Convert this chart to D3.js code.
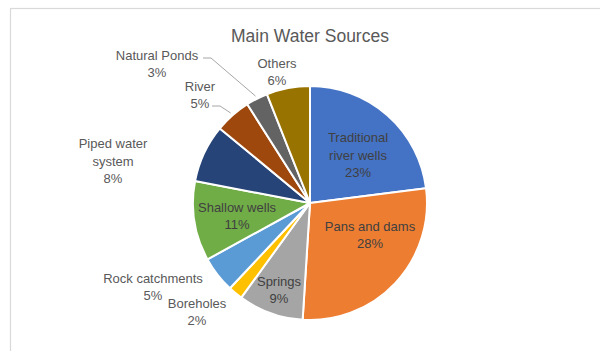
<!DOCTYPE html>
<html>
<head>
<meta charset="utf-8">
<script src="https://cdn.jsdelivr.net/npm/d3@7"></script>
<style>
  body { margin: 0; background: #fff; }
  svg { display: block; font-family: "Liberation Sans", Arial, sans-serif; }
</style>
</head>
<body>
<div id="chart"></div>
<script>
"use strict";
// data
const sources = ["Traditional river wells", "Pans and dams", "Springs", "Boreholes",
  "Rock catchments", "Shallow wells", "Piped water system", "River", "Natural Ponds", "Others"];
const shares = [23, 28, 9, 2, 5, 11, 8, 5, 3, 6];
const colours = ["#4472C4", "#ED7D31", "#A5A5A5", "#FFC000", "#5B9BD5",
  "#70AD47", "#264478", "#9E480E", "#636363", "#997300"];

// label text lines + placement (offset from pie centre) -- layout only
const labelLines = {
  "Traditional river wells": ["Traditional", "river wells"],
  "Pans and dams": ["Pans and dams"],
  "Springs": ["Springs"],
  "Boreholes": ["Boreholes"],
  "Rock catchments": ["Rock catchments"],
  "Shallow wells": ["Shallow wells"],
  "Piped water system": ["Piped water", "system"],
  "River": ["River"],
  "Natural Ponds": ["Natural Ponds"],
  "Others": ["Others"]
};
const labelOffset = {
  "Traditional river wells": [48, -48, true],
  "Pans and dams": [60, 32, true],
  "Springs": [-31, 87, true],
  "Boreholes": [-113, 109, false],
  "Rock catchments": [-157, 84, false],
  "Shallow wells": [-73, 13, true],
  "Piped water system": [-197, -42, false],
  "River": [-110, -108, false],
  "Natural Ponds": [-153, -139, false],
  "Others": [-33, -131, false]
};
// leader line start (near the label), offset from pie centre
const leaderStart = {
  "River": [-98, -97],
  "Natural Ponds": [-107, -145]
};

const W = 600, H = 351;
const cx = 310, cy = 203, R = 117;
const lineH = 17.5;

const svg = d3.select("#chart").append("svg")
  .attr("width", W).attr("height", H);

// chart frame
svg.append("rect")
  .attr("x", 10.5).attr("y", 8.5)
  .attr("width", W).attr("height", H)
  .attr("fill", "#fff")
  .attr("stroke", "#d9d9d9")
  .attr("stroke-width", 1.2);

svg.append("text")
  .attr("x", cx).attr("y", 42)
  .attr("text-anchor", "middle")
  .attr("fill", "#595959")
  .style("font-size", "17.5px")
  .text("Main Water Sources");

const data = sources.map((s, i) => ({ name: s, value: shares[i], color: colours[i] }));

const pie = d3.pie().sort(null).value(d => d.value);
const arcs = pie(data);
const arc = d3.arc().innerRadius(0).outerRadius(R);
const edgeArc = d3.arc().innerRadius(R + 3).outerRadius(R + 3);

const g = svg.append("g").attr("transform", `translate(${cx},${cy})`);

g.selectAll("path.slice")
  .data(arcs)
  .enter().append("path")
  .attr("class", "slice")
  .attr("d", arc)
  .attr("fill", d => d.data.color)
  .attr("stroke", "#fff")
  .attr("stroke-width", 2)
  .attr("stroke-linejoin", "round");

// leader lines
arcs.filter(d => leaderStart[d.data.name]).forEach(d => {
  const s = leaderStart[d.data.name];
  const e = edgeArc.centroid(d);
  g.append("polyline")
    .attr("points", [[s[0], s[1]], [s[0] + 8, s[1]], e].map(p => p.join(",")).join(" "))
    .attr("fill", "none")
    .attr("stroke", "#a6a6a6")
    .attr("stroke-width", 1);
});

// labels
arcs.forEach(d => {
  const name = d.data.name;
  const lines = labelLines[name].concat([d.data.value + "%"]);
  const off = labelOffset[name];
  const inside = off[2];
  const top = off[1] - (lines.length - 1) * lineH / 2;
  const t = g.append("text")
    .attr("text-anchor", "middle")
    .attr("fill", inside ? "#404040" : "#595959")
    .style("font-size", "13px");
  lines.forEach((ln, i) => {
    t.append("tspan")
      .attr("x", off[0])
      .attr("y", top + i * lineH)
      .attr("dy", "0.35em")
      .text(ln);
  });
});
</script>
</body>
</html>
